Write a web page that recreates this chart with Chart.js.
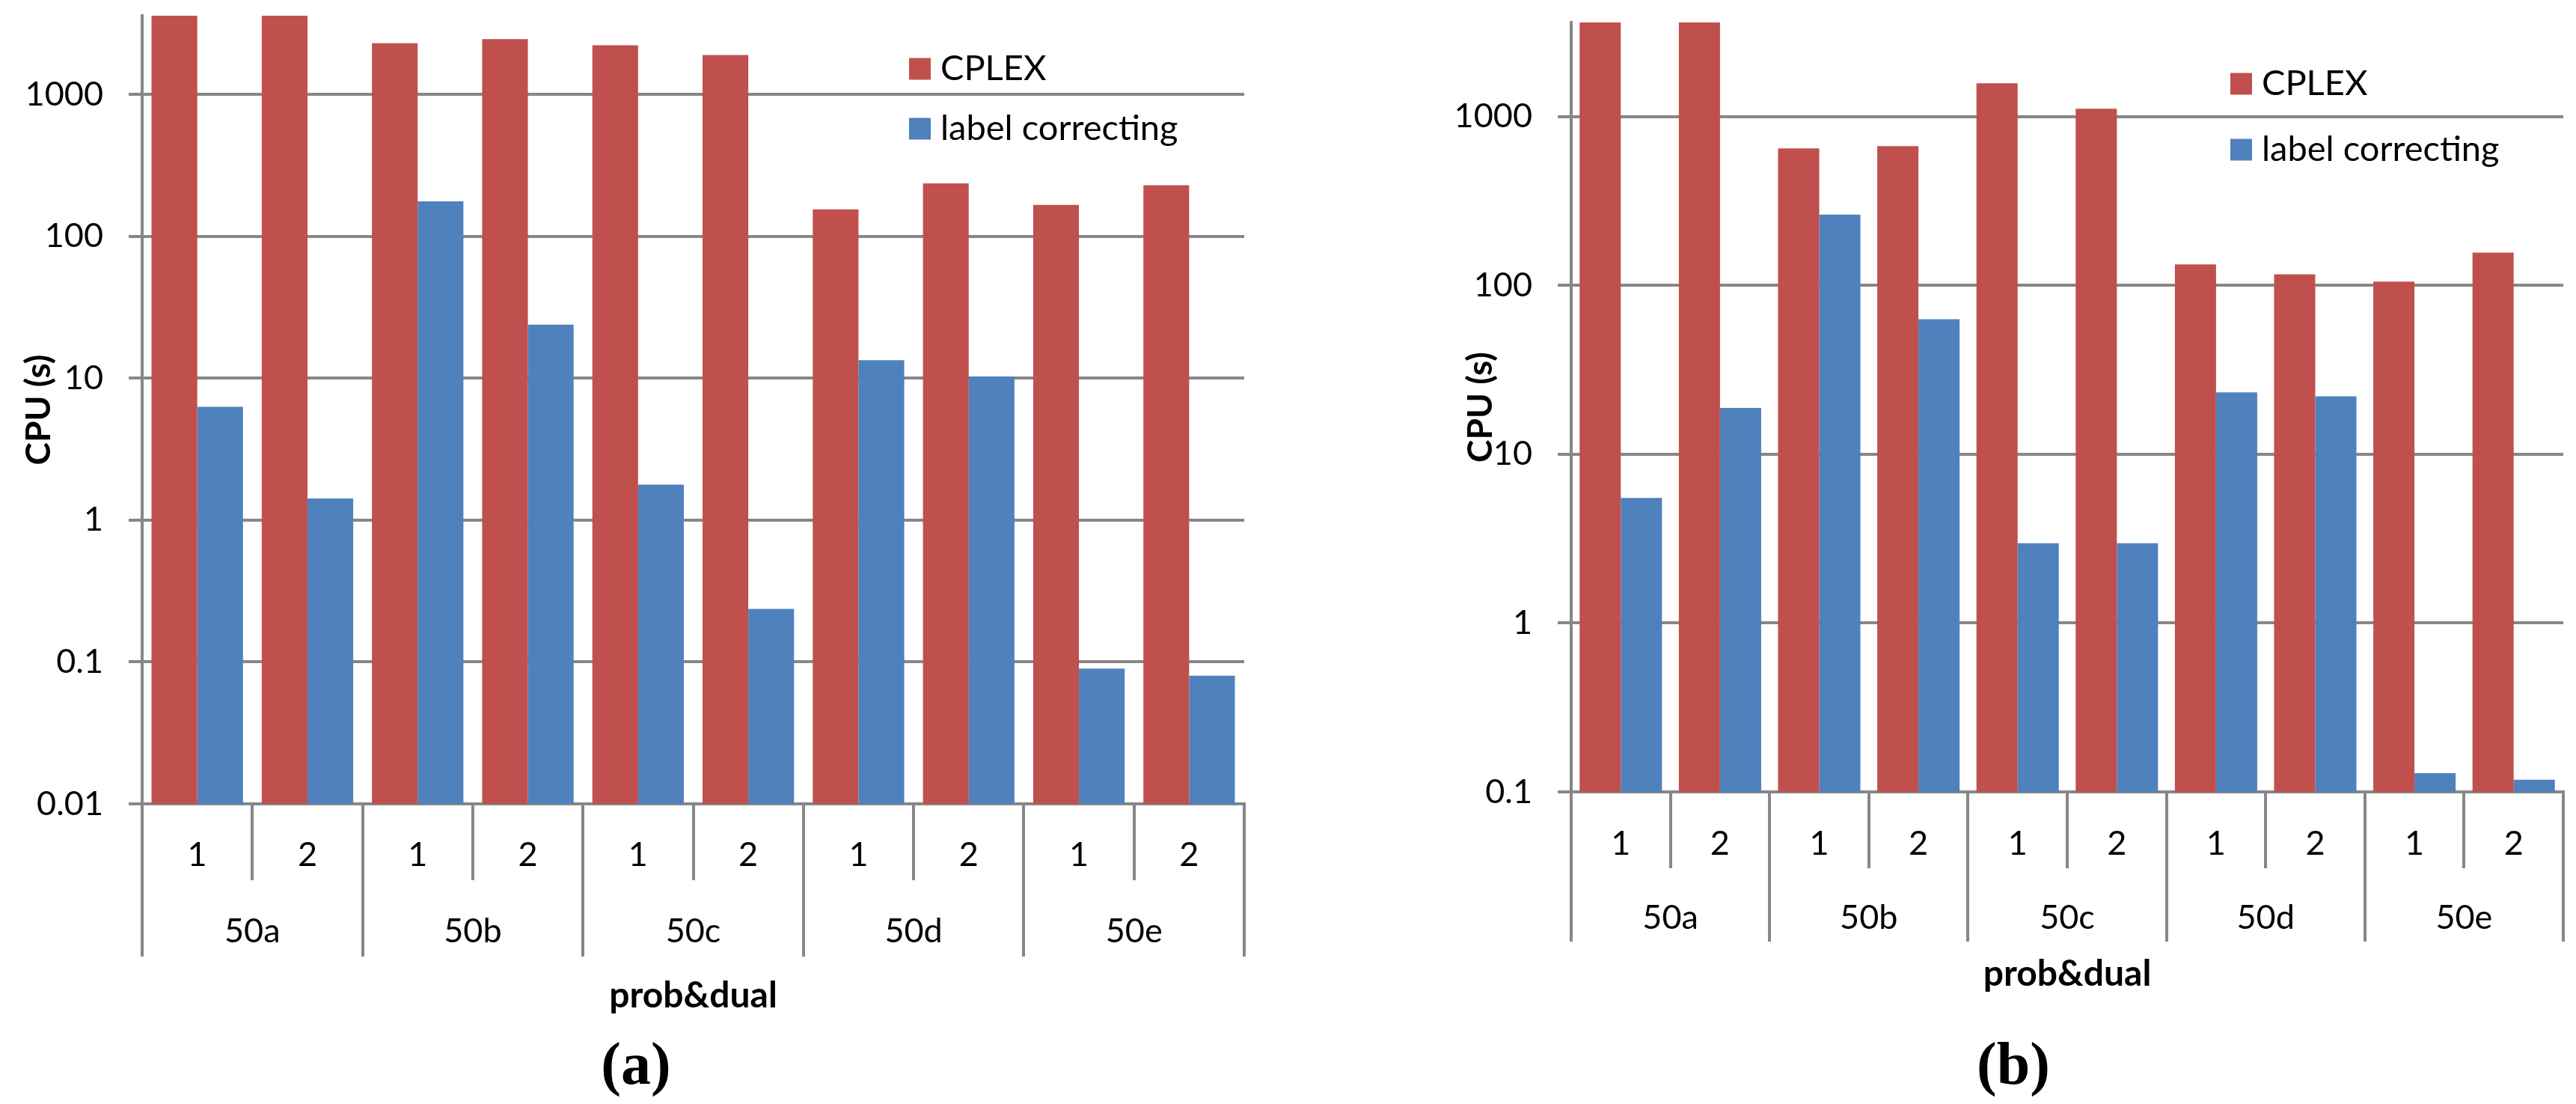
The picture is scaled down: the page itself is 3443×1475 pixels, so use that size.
<!DOCTYPE html>
<html>
<head>
<meta charset="utf-8">
<script src="https://cdn.jsdelivr.net/npm/chart.js@4.4.1/dist/chart.umd.min.js"></script>
<style>
  body { margin: 0; background: #fff; width: 3443px; height: 1475px; position: relative; overflow: hidden; }
  canvas { position: absolute; top: 0; }
  .cap { position: absolute; top: 1381px; width: 200px; text-align: center; font: bold 80px "Liberation Serif", serif; line-height: 80px; color: #000; }
</style>
</head>
<body>
<canvas id="chartA" width="1700" height="1380" style="left:0;width:1700px;height:1380px"></canvas>
<canvas id="chartB" width="1503" height="1380" style="left:1940px;width:1503px;height:1380px"></canvas>
<div class="cap" style="left:750px">(a)</div>
<div class="cap" style="left:2591px">(b)</div>
<script>
// categories
const runs = ['1', '2', '1', '2', '1', '2', '1', '2', '1', '2'];
const groups = ['50a', '50b', '50c', '50d', '50e'];

// CPU seconds, chart (a)
const cplexA = [3600, 3600, 2300, 2460, 2230, 1900, 155, 237, 167, 230];
const labelCorrA = [6.3, 1.42, 177, 23.9, 1.78, 0.237, 13.4, 10.3, 0.09, 0.08];

// CPU seconds, chart (b)
const cplexB = [3600, 3600, 647, 667, 1571, 1110, 133, 116, 105, 156];
const labelCorrB = [5.5, 18.8, 262, 63, 2.97, 2.97, 23.2, 22, 0.129, 0.118];

// y axis ticks
const yTicksA = [0.01, 0.1, 1, 10, 100, 1000];
const yTicksB = [0.1, 1, 10, 100, 1000];
const timeLimit = 3600;

const RED = '#C0504D';
const BLUE = '#4F81BD';
const GRID = '#878787';
const FONT = 'Lato, "Open Sans", sans-serif';

// legend drawn inside the plot, top right
const cornerLegend = {
    id: 'cornerLegend',
    afterDraw(chart, args, opts) {
        const { ctx, chartArea } = chart;
        ctx.save();
        ctx.font = '47px ' + FONT;
        ctx.textBaseline = 'middle';
        chart.data.datasets.forEach((ds, i) => {
            const x = chartArea.left + opts.x;
            const y = chartArea.top + opts.y + i * opts.gap;
            ctx.fillStyle = ds.backgroundColor;
            ctx.fillRect(x, y - 14.5, 29, 29);
            ctx.fillStyle = '#000';
            ctx.fillText(ds.label, x + 42, y);
        });
        ctx.restore();
    }
};

// no extra room for half-labels at the axis ends
function noPad(s) {
    s.paddingTop = 0;
    s.paddingBottom = 0;
    s.paddingLeft = 0;
    s.paddingRight = 0;
}

function makeChart(id, cplex, labelCorr, yMin, yTicks, L) {
    const ctx = document.getElementById(id).getContext('2d');
    return new Chart(ctx, {
        type: 'bar',
        data: {
            labels: runs,
            datasets: [
                { label: 'CPLEX', data: cplex, backgroundColor: RED, borderWidth: 0 },
                { label: 'label correcting', data: labelCorr, backgroundColor: BLUE, borderWidth: 0 }
            ]
        },
        options: {
            responsive: false,
            animation: false,
            devicePixelRatio: 1,
            categoryPercentage: 0.83,
            barPercentage: 1.0,
            layout: { padding: { top: L.padTop, right: L.padRight, left: 0, bottom: 0 } },
            plugins: {
                legend: { display: false },
                tooltip: { enabled: false },
                cornerLegend: L.leg
            },
            scales: {
                x: {
                    type: 'category',
                    position: 'bottom',
                    offset: true,
                    grid: { offset: true, drawOnChartArea: false, tickLength: L.subH, color: GRID, lineWidth: 4 },
                    border: { display: true, color: GRID, width: 4 },
                    ticks: { padding: L.subPad, font: { family: FONT, size: 45 }, color: '#000', maxRotation: 0, autoSkip: false },
                    afterFit: s => { s.height = L.subH; noPad(s); }
                },
                x2: {
                    type: 'category',
                    position: 'bottom',
                    labels: groups,
                    offset: true,
                    grid: { offset: true, drawOnChartArea: false, tickLength: L.grpTick, color: GRID, lineWidth: 4 },
                    border: { display: false },
                    ticks: { padding: L.grpPad, font: { family: FONT, size: 45 }, color: '#000', maxRotation: 0, autoSkip: false },
                    title: {
                        display: true,
                        text: 'prob&dual',
                        color: '#000',
                        font: { family: FONT, size: 48, weight: 'bold' },
                        padding: { top: 0, bottom: L.xTitlePad }
                    },
                    afterFit: s => { s.height = L.grpH; noPad(s); }
                },
                y: {
                    type: 'logarithmic',
                    min: yMin,
                    max: timeLimit,
                    grid: { color: GRID, lineWidth: 4, tickLength: 18 },
                    border: { display: true, color: GRID, width: 4 },
                    ticks: {
                        padding: 34,
                        color: '#000',
                        font: { family: FONT, size: 45 },
                        callback: v => String(v)
                    },
                    afterBuildTicks: s => { s.ticks = yTicks.map(v => ({ value: v })); },
                    title: {
                        display: true,
                        text: 'CPU (s)',
                        color: '#000',
                        font: { family: FONT, size: 46, weight: 'bold' },
                        padding: { top: L.yTitlePad, bottom: 0 }
                    },
                    afterFit: s => { s.width = L.yWidth; noPad(s); }
                }
            }
        },
        plugins: [cornerLegend]
    });
}

makeChart('chartA', cplexA, labelCorrA, 0.01, yTicksA, {
    padTop: 21, padRight: 37, yWidth: 190, yTitlePad: 25,
    subH: 102, subPad: -61, grpTick: 102, grpPad: -61, grpH: 204, xTitlePad: 21,
    leg: { x: 1025, y: 71, gap: 80 }
});

makeChart('chartB', cplexB, labelCorrB, 0.1, yTicksB, {
    padTop: 30, padRight: 17, yWidth: 160, yTitlePad: 12,
    subH: 102, subPad: -60, grpTick: 98, grpPad: -59, grpH: 220, xTitlePad: 50,
    leg: { x: 881, y: 82, gap: 88 }
});
</script>
</body>
</html>
